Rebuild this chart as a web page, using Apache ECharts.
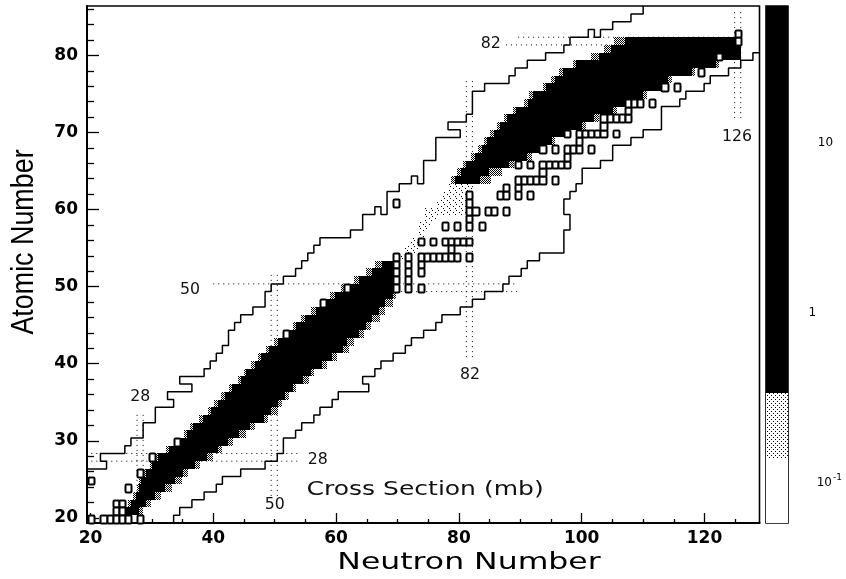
<!DOCTYPE html>
<html><head><meta charset="utf-8">
<style>html,body{margin:0;padding:0;background:#fff}#c{width:846px;height:579px}</style>
<script src="https://cdn.jsdelivr.net/npm/echarts@6/dist/echarts.min.js"></script>
</head><body><div id="c"></div>
<script>
// Proton number rows and neutron-number extents of the dark band
const bandZ      = [21,22,23,24,25,26,27,28,29,30,31,32,33,34,35,36,37,38,39,40,41,42,43,44,45,46,47,48,49,50,51,52,53,
                    64,65,66,67,68,69,70,71,72,73,74,75,76,77,78,79,80,81,82];
const blackStart = [25.5,26.5,27.3,27.9,28.2,29,30,31,32.7,34.3,35.7,36.7,38.4,39.7,40.8,41.9,43,44.6,45.4,46.8,47.9,49.2,50.6,52.2,53.6,55,56.8,58.5,60,61.7,63.9,66,67.6,
                    79.6,80.7,81.5,82.9,84,84.9,86,87.1,88.2,89.7,91.6,92.4,94.6,96,97.3,99.5,103.3,105.2,107.6];
const blackEnd   = [27.8,29,30.5,32.1,33.8,35.1,37,38.9,40.8,42.4,44.3,46,48.4,49.5,50.6,51.7,53,54.7,56,57.9,59.5,61.2,62,63.9,65,66,67.2,68.2,69.5,70,70,70,69.5,
                    83.7,85.3,88.5,91.5,93.5,95.5,97.5,100.5,102.5,105.5,107.5,110.5,113.5,114.5,118.5,122.5,126.5,126.5,125.5];
const grayStart  = [25,26,26.8,27.5,27.8,28.6,29.6,30.6,32.2,33.8,35.2,36.2,37.7,39.2,40.2,41.2,42.5,44,45,46.2,47.4,48.6,50,51.7,53,54.4,56,57.6,59.2,61,63,65,66.6,
                    79,80,81,82.3,83.4,84.4,85.4,86.6,87.7,89.1,91,91.8,94,95.4,96.7,99,102,104,105.8];
const grayEnd    = [28.4,29.8,31.4,33.2,34.8,35.9,37.8,39.9,41.4,43.2,45.4,46.8,49,50.6,51.2,52.4,53.6,55.7,56.6,58.7,60.3,62.2,63,64.8,65.9,67.4,68.2,69.4,70,70.5,70.5,70.5,70,
                    85.5,87.3,89.3,92.2,94.2,96.1,98.1,101.1,103.2,106.2,108.2,111.2,114,115.2,119,123,126.5,126.5,125.5];
// Sparse diffuse cells between the two dark lobes
const diffuseZ     = [53,54,55,56,57,58,59,60,61,62,63];
const diffuseStart = [69.5,70.5,71.5,72.5,73.5,73.5,74.5,74.5,76.5,77.5,78.5];
const diffuseEnd   = [70.5,72.5,73.5,74.5,74.5,75.5,76.5,81.5,81.5,81.5,82.5];
// Isolated open cells [N, Z]
const openCells = [[20,25],[30,28],[28,26],[26,24],[24,22],[25,22],[24,21],[25,21],[20,20],[22,20],[23,20],[24,20],[25,20],[26,20],[28,20],
 [34,30],[52,44],[58,48],[62,50],[70,61],[82,62],[87,62],[88,62],[90,62],[92,62],[88,63],[90,63],[90,64],[91,64],[92,64],[93,64],[94,64],[96,64],[94,65],
 [90,66],[92,66],[94,66],[95,66],[96,66],[97,66],[98,66],[98,67],[94,68],[96,68],[98,68],[99,68],[100,68],[102,68],[100,69],
 [98,70],[100,70],[101,70],[102,70],[103,70],[104,70],[106,70],[104,71],[104,72],[105,72],[106,72],[107,72],[108,72],[108,73],[108,74],[109,74],[110,74],[112,74],
 [114,76],[116,76],[120,78],[123,80],[126,82],[126,83],[78,58],[80,58],[82,58],[84,58],[82,59],[82,60],[83,60],[85,60],[86,60],[88,60],[82,61],
 [74,56],[76,56],[78,56],[79,56],[80,56],[81,56],[82,56],[79,55],[70,54],[72,54],[74,54],[75,54],[76,54],[77,54],[78,54],[79,54],[80,54],[82,54],
 [70,53],[72,53],[74,53],[70,52],[72,52],[74,52],[70,51],[72,51],[70,50],[72,50],[74,50]];
// Upper and lower contour vertices [N, Z]
const upperContour = [[19.3,26.5],[22.5,26.5],[22.5,27.5],[21.5,27.5],[21.5,28.5],[25.5,28.5],[25.5,29.5],[26.5,29.5],[26.5,30.5],[28.5,30.5],[28.5,32.5],[30.5,32.5],[30.5,34.5],[33.5,34.5],[33.5,35.5],[32.5,35.5],[32.5,36.5],[36.5,36.5],[36.5,37.5],[34.5,37.5],[34.5,38.5],[38.5,38.5],[38.5,39.5],[39.5,39.5],[39.5,40.5],[40.5,40.5],[40.5,41.5],[41.5,41.5],[41.5,42.5],[42.5,42.5],[42.5,44.5],[43.5,44.5],[43.5,45.5],[44.5,45.5],[44.5,46.5],[46.5,46.5],[46.5,47.5],[48.5,47.5],[48.5,49.5],[49.5,49.5],[49.5,50.5],[51.5,50.5],[51.5,51.5],[53.5,51.5],[53.5,52.5],[54.5,52.5],[54.5,53.5],[55.5,53.5],[55.5,54.5],[56.5,54.5],[56.5,55.5],[57.5,55.5],[57.5,56.5],[62.5,56.5],[62.5,57.5],[64.5,57.5],[64.5,59.5],[66.5,59.5],[66.5,60.5],[67.5,60.5],[67.5,59.5],[68.5,59.5],[68.5,62.5],[70.5,62.5],[70.5,63.5],[72.5,63.5],[72.5,64.5],[73.5,64.5],[73.5,63.5],[74.5,63.5],[74.5,66.5],[76.5,66.5],[76.5,69.5],[80.5,69.5],[80.5,70.5],[78.5,70.5],[78.5,71.5],[81.5,71.5],[81.5,72.5],[82.5,72.5],[82.5,75.5],[84.5,75.5],[84.5,76.5],[88.5,76.5],[88.5,77.5],[89.5,77.5],[89.5,78.5],[91.5,78.5],[91.5,79.5],[94.5,79.5],[94.5,80.5],[97.5,80.5],[97.5,81.5],[98.5,81.5],[98.5,82.5],[101.5,82.5],[101.5,83.5],[102.5,83.5],[102.5,82.5],[103.5,82.5],[103.5,83.5],[105.5,83.5],[105.5,84.5],[108.5,84.5],[108.5,85.5],[110.5,85.5],[110.5,86.55]];
const lowerContour = [[33.5,19.5],[33.5,20.5],[34.5,20.5],[34.5,21.5],[36.5,21.5],[36.5,22.5],[38.5,22.5],[38.5,23.5],[40.5,23.5],[40.5,24.5],[41.5,24.5],[41.5,25.5],[44.5,25.5],[44.5,26.5],[48.5,26.5],[48.5,27.5],[50.5,27.5],[50.5,28.5],[51.5,28.5],[51.5,30.5],[53.5,30.5],[53.5,31.5],[54.5,31.5],[54.5,32.5],[56.5,32.5],[56.5,33.5],[57.5,33.5],[57.5,34.5],[59.5,34.5],[59.5,35.5],[60.5,35.5],[60.5,36.5],[65.5,36.5],[65.5,37.5],[64.5,37.5],[64.5,38.5],[66.5,38.5],[66.5,39.5],[67.5,39.5],[67.5,40.5],[69.5,40.5],[69.5,41.5],[71.5,41.5],[71.5,42.5],[72.5,42.5],[72.5,43.5],[74.5,43.5],[74.5,44.5],[76.5,44.5],[76.5,45.5],[77.5,45.5],[77.5,46.5],[80.5,46.5],[80.5,47.5],[82.5,47.5],[82.5,48.5],[84.5,48.5],[84.5,49.5],[87.5,49.5],[87.5,50.5],[88.5,50.5],[88.5,51.5],[90.5,51.5],[90.5,52.5],[91.5,52.5],[91.5,53.5],[93.5,53.5],[93.5,54.5],[97.5,54.5],[97.5,57.5],[98.5,57.5],[98.5,59.5],[97.5,59.5],[97.5,61.5],[98.5,61.5],[98.5,62.5],[99.5,62.5],[99.5,63.5],[100.5,63.5],[100.5,65.5],[103.5,65.5],[103.5,66.5],[105.5,66.5],[105.5,68.5],[108.5,68.5],[108.5,69.5],[110.5,69.5],[110.5,70.5],[113.5,70.5],[113.5,73.5],[116.5,73.5],[116.5,74.5],[117.5,74.5],[117.5,75.5],[120.5,75.5],[120.5,76.5],[121.5,76.5],[121.5,77.5],[124.5,77.5],[124.5,78.5],[126.5,78.5],[126.5,79.5],[128.5,79.5],[128.5,80.5],[129.6,80.5]];
// Magic-number guide lines
const guideLines = [
 [[90,82.5],[126,82.5]],[[88,81.5],[126,81.5]],
 [[125.5,72],[125.5,86]],[[126.5,72],[126.5,86]],
 [[81.5,41],[81.5,77]],[[82.5,41],[82.5,77]],
 [[40,50.5],[90,50.5]],[[70,49.5],[90,49.5]],
 [[49.5,23],[49.5,52]],[[50.5,23],[50.5,52]],
 [[20,28.5],[54,28.5]],[[20,27.5],[54,27.5]],
 [[27.5,23],[27.5,34]],[[28.5,23],[28.5,34]]
];
// Annotations
const annoText = ['50','28','28','50','82','82','126','Cross Section (mb)'];
const annoN    = [36.2,28.1,57,50,81.8,85.2,125.3,74.5];
const annoZ    = [49.5,35.6,27.5,21.6,38.5,81.5,69.4,23.7];
// Axes ticks
const xMajor = [20,40,60,80,100,120];
const xMinor = [25,30,35,45,50,55,65,70,75,85,90,95,105,110,115,125];
const yMajor = [20,30,40,50,60,70,80];
const yMinor = [22,24,26,28,32,34,36,38,42,44,46,48,52,54,56,58,62,64,66,68,72,74,76,78,82,84,86];
// Colour scale
const scaleEdges = [0.0605,0.146,0.352,66.7];
const scaleMinorTicks = [0.09,0.08,0.07];
const scaleLabelValue = [10,1,0.1];
const scaleLabelText  = ['10','1','{a|10}{b|-1}'];
const scaleLabelPos   = [2.7,2.1,2.88];

function pattern(size, dots){
  const c=document.createElement('canvas'); c.width=c.height=size;
  const g=c.getContext('2d'); g.fillStyle='#fff'; g.fillRect(0,0,size,size); g.fillStyle='#000';
  dots.forEach(d=>g.fillRect(d[0],d[1],1,1)); return c;
}
const dense = pattern(4,[[0,0],[2,0],[1,1],[3,1],[0,2],[2,2],[1,3],[3,3]]);
const sparse = pattern(6,[[0,0],[3,2],[5,4]]);
const barDots = pattern(4,[[1,1],[3,3]]);

const CX=3, CY=4; // cell axes: the bin raster is slightly finer than the printed ticks
const rowItem = (fill) => (p, api) => {
  const a = api.coord([api.value(0), api.value(2)-0.5]), b = api.coord([api.value(1), api.value(2)+0.5]);
  const x0=Math.round(a[0]), x1=Math.round(b[0]), y0=Math.round(b[1]), y1=Math.round(a[1]);
  return {type:'rect', shape:{x:x0,y:y0,width:x1-x0,height:y1-y0}, style:{fill:fill}};
};
const rowData = (zs,s,e) => zs.map((z,i)=>[s[i],e[i],z]);
const rowSeries = (data,fill,z) => ({type:'custom',coordinateSystem:'cartesian2d',xAxisIndex:CX,yAxisIndex:CY,z:z,silent:true,
  encode:{x:[0,1],y:2},data:data,renderItem:rowItem(fill),animation:false});
const lineS = (data,style,z) => ({type:'line',xAxisIndex:CX,yAxisIndex:CY,data:data,showSymbol:false,symbol:'none',silent:true,z:z,animation:false,lineStyle:style});

const series = [];
guideLines.forEach(g=>series.push(lineS(g,{color:'#000',width:1,type:[1,4]},1)));
series.push(rowSeries(rowData(diffuseZ,diffuseStart,diffuseEnd),{image:sparse,repeat:'repeat'},2));
series.push(rowSeries(rowData(bandZ,grayStart,grayEnd),{image:dense,repeat:'repeat'},2));
series.push(rowSeries(rowData(bandZ,blackStart,blackEnd),'#000',3));
series.push({type:'custom',xAxisIndex:CX,yAxisIndex:CY,z:4,silent:true,animation:false,encode:{x:0,y:1},data:openCells,
  renderItem:(p,api)=>{
    const a=api.coord([api.value(0)-0.5,api.value(1)-0.5]), b=api.coord([api.value(0)+0.5,api.value(1)+0.5]);
    const x0=Math.round(a[0]),x1=Math.round(b[0]),y0=Math.round(b[1]),y1=Math.round(a[1]);
    return {type:'rect',shape:{x:x0+.5,y:y0+.5,width:x1-x0,height:y1-y0,r:1},style:{fill:'#fff',stroke:'#000',lineWidth:2}};
  }});
series.push(lineS(upperContour,{color:'#000',width:1.5},5));
series.push(lineS(lowerContour,{color:'#000',width:1.5},5));
series.push({type:'custom',xAxisIndex:0,yAxisIndex:0,z:6,silent:true,clip:false,animation:false,encode:{x:0,y:1},
  data:annoText.map((t,i)=>[annoN[i],annoZ[i],i]),
  renderItem:(p,api)=>{
    const c=api.coord([api.value(0),api.value(1)]), i=api.value(2), big=annoText[i].length>4;
    return {type:'text',x:c[0],y:c[1],scaleX:big?1.25:1.05,style:{text:annoText[i],fill:'#111',align:'center',verticalAlign:'middle',
      font:(big?'20px':'15px')+' "DejaVu Sans"'}};
  }});
// colour scale bands
const scaleLog = scaleEdges.map(Math.log10);
series.push({type:'custom',xAxisIndex:2,yAxisIndex:2,z:3,silent:true,animation:false,encode:{y:[0,1]},
  data:[[scaleLog[0],scaleLog[1],0],[scaleLog[1],scaleLog[2],1],[scaleLog[2],scaleLog[3],2]],
  renderItem:(p,api)=>{
    const a=api.coord([0,api.value(0)]), b=api.coord([1,api.value(1)]), k=api.value(2);
    const x0=Math.round(a[0]),x1=Math.round(b[0]),y0=Math.round(b[1]),y1=Math.round(a[1]);
    return {type:'rect',shape:{x:x0,y:y0,width:x1-x0,height:y1-y0},style:{fill:k===0?'#fff':k===1?{image:barDots,repeat:'repeat'}:'#000'}};
  }});
series.push({type:'custom',xAxisIndex:2,yAxisIndex:2,z:6,silent:true,clip:false,animation:false,encode:{x:0,y:1},
  data:scaleLabelValue.map((v,i)=>[scaleLabelPos[i],Math.log10(v),i]),
  renderItem:(p,api)=>{
    const c=api.coord([api.value(0),api.value(1)]), i=api.value(2);
    return {type:'text',x:c[0],y:c[1]-3,style:{text:scaleLabelText[i],fill:'#000',align:'center',verticalAlign:'middle',
      font:'12px "DejaVu Sans"',rich:{a:{font:'12px "DejaVu Sans"',fill:'#000'},b:{font:'9px "DejaVu Sans"',fill:'#000',padding:[0,0,10,1]}}}};
  }});

const XMIN=19.43,XMAX=128.96,YMIN=19.33,YMAX=86.4;
const lab={fontFamily:'"DejaVu Sans"',fontWeight:'bold',fontSize:17,color:'#000'};
const chart=echarts.init(document.getElementById('c'),null,{renderer:'canvas'});
chart.setOption({
  animation:false, backgroundColor:'#fff',
  grid:[
   {left:87,top:6,width:672.5,height:517,containLabel:false,show:true,borderColor:'#000',borderWidth:1.6,backgroundColor:'transparent'},
   {left:766,top:6,width:22,height:517,containLabel:false,show:true,borderColor:'#000',borderWidth:1.6,backgroundColor:'transparent'}
  ],
  xAxis:[
   {type:'value',gridIndex:0,position:'bottom',min:XMIN,max:XMAX,splitLine:{show:false},
    axisLine:{show:true,onZero:false,lineStyle:{color:'#000',width:2}},
    axisTick:{show:true,inside:true,length:10,customValues:xMajor,lineStyle:{color:'#000',width:1.3}},
    axisLabel:{show:true,customValues:xMajor,margin:7,...lab,formatter:v=>String(v),showMinLabel:true,showMaxLabel:true}},
   {type:'value',gridIndex:0,position:'bottom',min:XMIN,max:XMAX,splitLine:{show:false},axisLine:{show:false,onZero:false},
    axisTick:{show:true,inside:true,length:4,customValues:xMinor,lineStyle:{color:'#000',width:1.3}},axisLabel:{show:false}},
   {type:'value',gridIndex:1,min:0,max:1,show:false},
   {type:'value',gridIndex:0,position:'bottom',min:19.295,max:129.58,show:false}
  ],
  yAxis:[
   {type:'value',gridIndex:0,position:'left',min:YMIN,max:YMAX,splitLine:{show:false},
    axisLine:{show:true,onZero:false,lineStyle:{color:'#000',width:2}},
    axisTick:{show:true,inside:true,length:12,customValues:yMajor,lineStyle:{color:'#000',width:1.3}},
    axisLabel:{show:true,customValues:yMajor,margin:9,...lab,formatter:v=>String(v)}},
   {type:'value',gridIndex:0,position:'left',min:YMIN,max:YMAX,splitLine:{show:false},axisLine:{show:false,onZero:false},
    axisTick:{show:true,inside:true,length:7,customValues:yMinor,lineStyle:{color:'#000',width:1.3}},axisLabel:{show:false}},
   {type:'value',gridIndex:1,min:Math.log10(0.0605),max:Math.log10(66.7),position:'right',splitLine:{show:false},
    axisLine:{show:false,onZero:false},axisLabel:{show:false},
    axisTick:{show:true,inside:true,length:11,customValues:scaleMinorTicks.map(Math.log10),lineStyle:{color:'#000',width:1.3}}},
   {type:'value',gridIndex:1,min:Math.log10(0.0605),max:Math.log10(66.7),position:'right',splitLine:{show:false},
    axisLine:{show:false,onZero:false},axisLabel:{show:false},
    axisTick:{show:true,inside:true,length:22,customValues:[Math.log10(0.1)],lineStyle:{color:'#000',width:1.3}}},
   {type:'value',gridIndex:0,position:'left',min:19.48,max:86.55,show:false}
  ],
  graphic:[
   {type:'text',x:469,y:563,scaleX:1.37,style:{text:'Neutron Number',fill:'#000',font:'23px "DejaVu Sans"',align:'center',verticalAlign:'middle'}},
   {type:'text',x:24,y:242,rotation:Math.PI/2,scaleX:0.84,style:{text:'Atomic Number',fill:'#000',font:'32px "Liberation Sans"',align:'center',verticalAlign:'middle'}}
  ],
  series:series
});
</script></body></html>
